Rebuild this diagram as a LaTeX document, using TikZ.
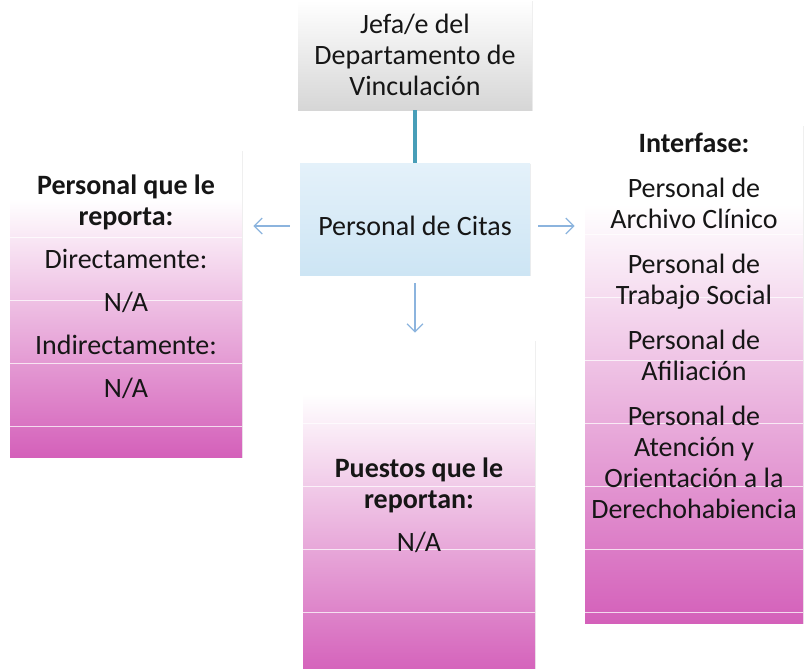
\documentclass[tikz,border=0pt]{standalone}
\usepackage{fontspec}
\setmainfont{Carlito}
\usetikzlibrary{positioning, arrows.meta, shadows}

\definecolor{pinkD}{RGB}{212,96,186}
\definecolor{citasBlue}{RGB}{205,229,244}
\definecolor{citasTop}{RGB}{228,241,250}
\definecolor{jefeGray}{RGB}{214,214,214}
\definecolor{linkTeal}{RGB}{72,158,184}
\definecolor{arrBlue}{RGB}{140,180,222}
\definecolor{txtGray}{RGB}{22,22,22}
\pgfdeclareverticalshading{pinkfade}{100bp}{color(0bp)=(pinkD); color(25bp)=(pinkD); color(67bp)=(white); color(100bp)=(white)}

\begin{document}
\begin{tikzpicture}[
    x=0.5pt, y=-0.5pt,
    font=\fontsize{14}{15.5}\selectfont,
    text=txtGray,
    box/.style={rectangle, inner sep=0pt,
                drop shadow={shadow xshift=0.4pt, shadow yshift=-0.7pt, opacity=0.14}},
    stack/.style={box, shade, shading=pinkfade, minimum width=116pt},
    band/.style={draw=white, line width=0.9pt, opacity=0.75},
    link/.style={draw=linkTeal, line width=2pt},
    arr/.style={draw=arrBlue, line width=0.6pt, -{Straight Barb[length=4pt, width=8pt]}},
    txt/.style={align=center, inner sep=0pt},
  ]
\useasboundingbox (0,0) rectangle (805,669);

\node[box, top color=white, bottom color=jefeGray, minimum width=117pt,
      minimum height=55pt, align=center] (jefe) at (415,55)
    {Jefa/e del\\Departamento de\\Vinculación};
\node[box, top color=citasTop, bottom color=citasBlue, minimum width=115pt,
      minimum height=56pt] (citas) at (415,219) {};
\node[txt] (citasTxt) at ([yshift=-3.5pt]citas.center) {Personal de Citas};

\node[stack, minimum height=153.5pt] (reporta) at (126,303.5) {};
\node[stack, minimum width=109pt, minimum height=249pt] (interfase) at (694,374) {};
\node[stack, minimum height=167.5pt] (puestos) at (419,507.5) {};

\foreach \k in {0,...,3}
    \draw[band] ([yshift=15.5pt+\k*31.5pt]reporta.south west) -- ([yshift=15.5pt+\k*31.5pt]reporta.south east);
\foreach \k in {0,...,6}
    \draw[band] ([yshift=5.5pt+\k*31.5pt]interfase.south west) -- ([yshift=5.5pt+\k*31.5pt]interfase.south east);
\foreach \k in {1,...,4}
    \draw[band] ([yshift=\k*31.5pt]puestos.south west) -- ([yshift=\k*31.5pt]puestos.south east);

\node[txt, below=12.5pt of reporta.north] (reportaTxt)
    {\textbf{Personal que le}\\\textbf{reporta:}\\[6pt]Directamente:\\[6pt]N/A\\[6pt]Indirectamente:\\[6pt]N/A};
\node[txt, below=4pt of interfase.north] (interfaseTxt)
    {\textbf{Interfase:}\\[7pt]Personal de\\Archivo Clínico\\[7pt]Personal de\\Trabajo Social\\[7pt]Personal de\\Afiliación\\[7pt]Personal de\\Atención y\\Orientación a la\\Derechohabiencia};
\node[txt, below=59pt of puestos.north] (puestosTxt)
    {\textbf{Puestos que le}\\\textbf{reportan:}\\[6pt]N/A};

\draw[link] (jefe.south) -- (citas.north);
\draw[arr] ([xshift=-5pt, yshift=-3.5pt]citas.west) -- ([xshift=5.5pt, yshift=-3.5pt]citas.west -| reporta.east);
\draw[arr] ([xshift=4pt, yshift=-3.5pt]citas.east) -- ([xshift=-5pt, yshift=-3.5pt]citas.east -| interfase.west);
\draw[arr] ([yshift=-4pt]citas.south) -- ([yshift=3.5pt]citas.south |- puestos.north);
\end{tikzpicture}
\end{document}
